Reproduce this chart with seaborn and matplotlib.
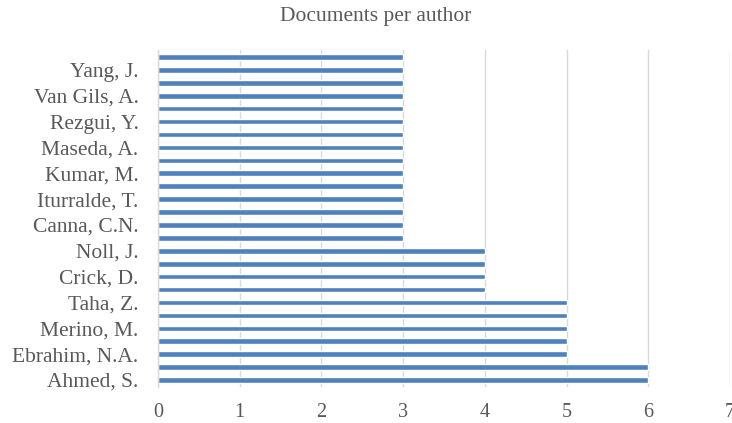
import matplotlib
matplotlib.use("Agg")
import matplotlib.pyplot as plt
import seaborn as sns
import pandas as pd

# Documents per author, listed from the bottom bar upwards
doc_counts = [6, 6, 5, 5, 5, 5, 5, 4, 4, 4, 4, 3, 3,
              3, 3, 3, 3, 3, 3, 3, 3, 3, 3, 3, 3, 3]
# Every second author is named on the axis (bottom upwards)
shown_authors = ["Ahmed, S.", "Ebrahim, N.A.", "Merino, M.", "Taha, Z.",
                 "Crick, D.", "Noll, J.", "Canna, C.N.", "Iturralde, T.",
                 "Kumar, M.", "Maseda, A.", "Rezgui, Y.", "Van Gils, A.",
                 "Yang, J."]
x_ticks = [0, 1, 2, 3, 4, 5, 6, 7]

sns.set_theme(style="white")
plt.rcParams["font.family"] = ["Liberation Serif", "DejaVu Serif"]

bar_color = "#4F81BD"
text_color = "#595959"
grid_color = "#D9D9D9"

n = len(doc_counts)
df = pd.DataFrame({"rank": list(range(n)), "docs": doc_counts})

fig = plt.figure(figsize=(7.32, 4.23), dpi=100)
ax = fig.add_axes([158 / 732, (423 - 386.5) / 423, (730 - 158) / 732, (386.5 - 50.5) / 423])

order = list(reversed(range(n)))  # highest rank at the top
sns.barplot(data=df, x="docs", y="rank", order=order, orient="h",
            color=bar_color, saturation=1, width=0.43, ax=ax)

ax.set_xlim(0, 7)
ax.set_xticks(x_ticks)
ax.set_xticklabels([str(t) for t in x_ticks], fontsize=14.5, color=text_color)

# axis position p holds rank n-1-p; label ranks 0, 2, 4, ...
label_pos = [n - 1 - 2 * i for i in range(len(shown_authors))]
ax.set_yticks(label_pos)
ax.set_yticklabels(shown_authors, fontsize=15.5, color=text_color)
ax.set_ylim(n - 0.5, -0.5)

ax.set_xlabel("")
ax.set_ylabel("")
ax.tick_params(axis="both", length=0)
ax.tick_params(axis="x", pad=12)
ax.tick_params(axis="y", pad=14)

ax.grid(axis="x", color=grid_color, linewidth=1)
ax.grid(axis="y", visible=False)
ax.set_axisbelow(True)
for side in ["top", "right", "bottom"]:
    ax.spines[side].set_visible(False)
ax.spines["left"].set_color(grid_color)
ax.spines["left"].set_linewidth(1)

fig.text(376 / 732, 1 - 17 / 423, "Documents per author", ha="center", va="center",
         fontsize=15.5, color=text_color)

fig.savefig("out.png", dpi=100, facecolor="white")
